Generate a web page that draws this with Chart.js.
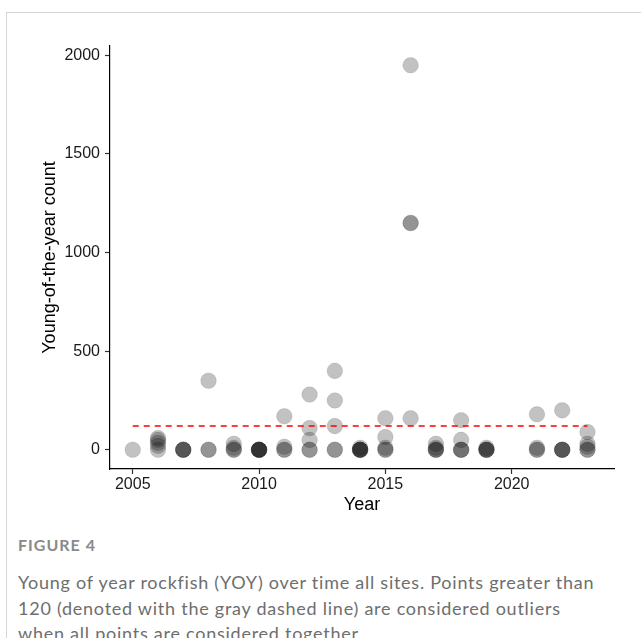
<!DOCTYPE html>
<html>
<head>
<meta charset="utf-8">
<script src="https://cdn.jsdelivr.net/npm/chart.js@4"></script>
<style>
  html, body { margin: 0; padding: 0; background: #fff; }
  body { width: 641px; height: 638px; position: relative; overflow: hidden; }
  .frame {
    position: absolute; left: 6px; top: 12px; width: 700px; height: 700px;
    border-top: 1px solid #d6d6d6; border-left: 1px solid #d6d6d6;
  }
  #chart { position: absolute; left: 0; top: 0; }
  .fig-label {
    position: absolute; left: 18px; top: 535px;
    font-family: Lato, 'Open Sans', sans-serif; font-size: 16px; font-weight: 700;
    color: #8a8a8a; letter-spacing: 1px;
  }
  .caption {
    position: absolute; left: 18px; top: 570px; width: 630px; white-space: nowrap;
    font-family: Lato, 'Open Sans', sans-serif; font-size: 18px; line-height: 25.5px;
    color: #6e6e6e; letter-spacing: 0.75px;
  }
</style>
</head>
<body>
<div class="frame"></div>
<canvas id="chart" width="641" height="520"></canvas>
<div class="fig-label">FIGURE 4</div>
<div class="caption">Young of year rockfish (YOY) over time all sites. Points greater than<br>120 (denoted with the gray dashed line) are considered outliers<br>when all points are considered together.</div>
<script>
// Survey observations: one entry per site-year sample
const surveyYear = [
  2005,
  2006, 2006, 2006, 2006, 2006,
  2007, 2007, 2007, 2007,
  2008, 2008, 2008,
  2009, 2009, 2009, 2009,
  2010, 2010, 2010, 2010, 2010, 2010,
  2011, 2011, 2011, 2011,
  2012, 2012, 2012, 2012, 2012,
  2013, 2013, 2013, 2013, 2013,
  2014, 2014, 2014, 2014, 2014, 2014,
  2015, 2015, 2015, 2015, 2015,
  2016, 2016, 2016, 2016,
  2017, 2017, 2017, 2017, 2017,
  2018, 2018, 2018, 2018, 2018,
  2019, 2019, 2019, 2019, 2019,
  2021, 2021, 2021, 2021,
  2022, 2022, 2022, 2022, 2022,
  2023, 2023, 2023, 2023, 2023
];
const yoyCount = [
  0,
  0, 20, 35, 50, 60,
  0, 0, 0, 0,
  350, 0, 0,
  30, 10, 0, 0,
  0, 0, 0, 0, 0, 0,
  170, 15, 0, 0,
  280, 110, 50, 0, 0,
  400, 250, 120, 0, 0,
  10, 0, 0, 0, 0, 0,
  160, 65, 10, 0, 0,
  1950, 1150, 1150, 160,
  30, 10, 0, 0, 0,
  150, 50, 0, 0, 0,
  10, 0, 0, 0, 0,
  180, 10, 0, 0,
  200, 0, 0, 0, 0,
  90, 30, 15, 0, 0
];

// Outlier threshold and the years it spans
const outlierThreshold = 120;
const thresholdYears = [2005, 2023];

// Axis ticks
const xTickValues = [2005, 2010, 2015, 2020];
const yTickValues = [0, 500, 1000, 1500, 2000];

const points = surveyYear.map((yr, i) => ({ x: yr, y: yoyCount[i] }));
const thresholdLine = thresholdYears.map(yr => ({ x: yr, y: outlierThreshold }));

Chart.defaults.font.family = "'Liberation Sans', Arial, Helvetica, sans-serif";
Chart.defaults.color = '#222';

new Chart(document.getElementById('chart'), {
  type: 'scatter',
  data: {
    datasets: [
      {
        type: 'line',
        data: thresholdLine,
        borderColor: '#ff0000',
        borderWidth: 1.5,
        borderDash: [6, 5],
        pointRadius: 0,
        fill: false
      },
      {
        data: points,
        backgroundColor: 'rgba(0,0,0,0.24)',
        borderColor: 'rgba(40,40,40,0.12)',
        borderWidth: 1,
        pointRadius: 7.8,
        pointHoverRadius: 7.8
      }
    ]
  },
  options: {
    responsive: false,
    animation: false,
    devicePixelRatio: 1,
    layout: { padding: { left: 0, top: 46, right: 27, bottom: 0 } },
    plugins: { legend: { display: false }, tooltip: { enabled: false } },
    scales: {
      x: {
        type: 'linear',
        min: 2004.1,
        max: 2024.05,
        afterFit: s => { s.height = 51; },
        afterBuildTicks: s => { s.ticks = xTickValues.map(v => ({ value: v })); },
        border: { display: true, color: '#000', width: 1.2 },
        grid: { display: true, drawOnChartArea: false, drawTicks: true, tickLength: 5, color: '#333', tickWidth: 1.2 },
        ticks: { padding: 1, font: { size: 16 }, color: '#1a1a1a', callback: v => String(v) },
        title: { display: true, text: 'Year', font: { size: 18 }, color: '#000', padding: { top: 0, bottom: 4 } }
      },
      y: {
        type: 'linear',
        min: -97.5,
        max: 2047.5,
        afterFit: s => { s.width = 110; },
        afterBuildTicks: s => { s.ticks = yTickValues.map(v => ({ value: v })); },
        border: { display: true, color: '#000', width: 1.2 },
        grid: { display: true, drawOnChartArea: false, drawTicks: true, tickLength: 5, color: '#333', tickWidth: 1.2 },
        ticks: { padding: 5, font: { size: 16 }, color: '#1a1a1a', callback: v => String(v) },
        title: { display: true, text: 'Young-of-the-year count', font: { size: 18 }, color: '#000', padding: { top: 39, bottom: 0 } }
      }
    }
  }
});
</script>
</body>
</html>
